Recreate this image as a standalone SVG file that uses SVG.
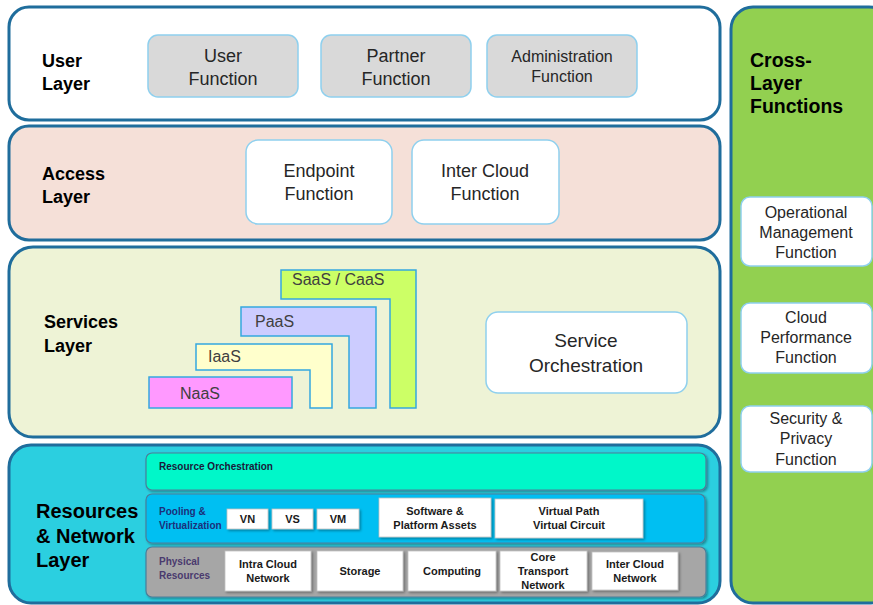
<svg xmlns="http://www.w3.org/2000/svg" width="873" height="605" viewBox="0 0 873 605">
<defs>
<style>
.layer{stroke:#1f6d9c;stroke-width:3}
.lbl{font-family:"Liberation Sans",Arial,sans-serif;font-weight:bold;fill:#000}
.fn{font-family:"Liberation Sans",Arial,sans-serif;fill:#262626;text-anchor:middle}
.gbox{fill:#d9d9d9;stroke:#8fd0ee;stroke-width:1.5}
.wbox{fill:#fff;stroke:#8fd0ee;stroke-width:1.5}
.stair{stroke:#35a8e0;stroke-width:1.5}
.stxt{font-family:"Liberation Sans",Arial,sans-serif;font-size:16px;fill:#404040}
.band{stroke:#4a7f9a;stroke-width:1.2}
.rb{fill:#fff;stroke:#c0c0c0;stroke-width:0.8}
.rt{font-family:"Liberation Sans",Arial,sans-serif;font-weight:bold;font-size:11px;fill:#1a1a1a;text-anchor:middle}
.small{font-family:"Liberation Sans",Arial,sans-serif;font-weight:bold;font-size:10px}
</style>
<filter id="sh" x="-10%" y="-10%" width="130%" height="140%"><feDropShadow dx="1.5" dy="1.5" stdDeviation="1" flood-color="#000" flood-opacity="0.35"/></filter>
</defs>

<g id="cross-layer">
<rect x="731" y="7" width="160" height="596" rx="22" fill="#92d050" class="layer"/>
<text class="lbl" font-size="19.5" x="750" y="67">Cross-</text>
<text class="lbl" font-size="19.5" x="750" y="90">Layer</text>
<text class="lbl" font-size="19.5" x="750" y="113">Functions</text>
</g>
<g id="op-mgmt">
<rect x="741" y="197" width="131" height="69" rx="9" class="wbox"/>
<text class="fn" font-size="16" x="806" y="218">Operational</text>
<text class="fn" font-size="16" x="806" y="238">Management</text>
<text class="fn" font-size="16" x="806" y="258">Function</text>
</g>
<g id="cloud-perf">
<rect x="741" y="303" width="131" height="70" rx="9" class="wbox"/>
<text class="fn" font-size="16" x="806" y="323">Cloud</text>
<text class="fn" font-size="16" x="806" y="343">Performance</text>
<text class="fn" font-size="16" x="806" y="363">Function</text>
</g>
<g id="sec-priv">
<rect x="741" y="406" width="131" height="66" rx="9" class="wbox"/>
<text class="fn" font-size="16" x="806" y="424">Security &amp;</text>
<text class="fn" font-size="16" x="806" y="444">Privacy</text>
<text class="fn" font-size="16" x="806" y="465">Function</text>
</g>

<g id="user-layer">
<rect x="9" y="7" width="711" height="113" rx="20" fill="#fff" class="layer"/>
<text class="lbl" font-size="18" x="42" y="67">User</text>
<text class="lbl" font-size="18" x="42" y="90">Layer</text>
</g>
<g id="user-function">
<rect x="148" y="35" width="150" height="62" rx="10" class="gbox"/>
<text class="fn" font-size="18" x="223" y="62">User</text>
<text class="fn" font-size="18" x="223" y="85">Function</text>
</g>
<g id="partner-function">
<rect x="321" y="35" width="150" height="62" rx="10" class="gbox"/>
<text class="fn" font-size="18" x="396" y="62">Partner</text>
<text class="fn" font-size="18" x="396" y="85">Function</text>
</g>
<g id="admin-function">
<rect x="487" y="35" width="150" height="62" rx="10" class="gbox"/>
<text class="fn" font-size="16" x="562" y="62">Administration</text>
<text class="fn" font-size="16" x="562" y="82">Function</text>
</g>

<g id="access-layer">
<rect x="9" y="126" width="711" height="114" rx="20" fill="#f5e0d8" class="layer"/>
<text class="lbl" font-size="18" x="42" y="180">Access</text>
<text class="lbl" font-size="18" x="42" y="203">Layer</text>
</g>
<g id="endpoint-function">
<rect x="246" y="140" width="146" height="84" rx="12" class="wbox"/>
<text class="fn" font-size="18" x="319" y="177">Endpoint</text>
<text class="fn" font-size="18" x="319" y="200">Function</text>
</g>
<g id="intercloud-function">
<rect x="412" y="140" width="147" height="84" rx="12" class="wbox"/>
<text class="fn" font-size="18" x="485" y="177">Inter Cloud</text>
<text class="fn" font-size="18" x="485" y="200">Function</text>
</g>

<g id="services-layer">
<rect x="9" y="247" width="711" height="190" rx="24" fill="#eef3d6" class="layer"/>
<text class="lbl" font-size="18" x="44" y="328">Services</text>
<text class="lbl" font-size="18" x="44" y="352">Layer</text>
</g>
<g id="saas">
<path d="M281 270H416V408H390V299H281Z" fill="#ccff66" class="stair"/>
<text class="stxt" x="292" y="285">SaaS / CaaS</text>
</g>
<g id="paas">
<path d="M241 307H376V408H349V336H241Z" fill="#ccccff" class="stair"/>
<text class="stxt" x="255" y="327">PaaS</text>
</g>
<g id="iaas">
<path d="M196 344H332V408H310V370H196Z" fill="#ffffcc" class="stair"/>
<text class="stxt" x="208" y="362">IaaS</text>
</g>
<g id="naas">
<rect x="149" y="377" width="143" height="31" fill="#ff99ff" class="stair"/>
<text class="stxt" x="180" y="399">NaaS</text>
</g>
<g id="service-orchestration">
<rect x="486" y="312" width="201" height="81" rx="12" class="wbox"/>
<text class="fn" font-size="19" x="586" y="347">Service</text>
<text class="fn" font-size="19" x="586" y="372">Orchestration</text>
</g>

<g id="resources-layer">
<rect x="9" y="445" width="711" height="158" rx="22" fill="#2bcfe0" class="layer"/>
<text class="lbl" font-size="20" x="36" y="518">Resources</text>
<text class="lbl" font-size="20" x="36" y="543">&amp; Network</text>
<text class="lbl" font-size="20" x="36" y="567">Layer</text>
</g>
<g id="resource-orchestration">
<rect x="146" y="453" width="560" height="37" rx="6" fill="#00f7c9" class="band" filter="url(#sh)"/>
<text class="small" x="159" y="470" fill="#1a1a3a">Resource Orchestration</text>
</g>
<g id="pooling">
<rect x="146" y="494" width="559" height="49" rx="6" fill="#00bff2" class="band" filter="url(#sh)"/>
<text class="small" x="159" y="515" fill="#1c2f7a">Pooling &amp;</text>
<text class="small" x="159" y="529" fill="#1c2f7a">Virtualization</text>
</g>
<g id="vn"><rect x="227" y="509" width="41" height="20" class="rb" filter="url(#sh)"/><text class="rt" x="247.5" y="523">VN</text></g>
<g id="vs"><rect x="272" y="509" width="41" height="20" class="rb" filter="url(#sh)"/><text class="rt" x="292.5" y="523">VS</text></g>
<g id="vm"><rect x="317" y="509" width="42" height="20" class="rb" filter="url(#sh)"/><text class="rt" x="338" y="523">VM</text></g>
<g id="software-assets"><rect x="379" y="498" width="112" height="39" class="rb" filter="url(#sh)"/><text class="rt" x="435" y="515">Software &amp;</text><text class="rt" x="435" y="529">Platform Assets</text></g>
<g id="virtual-path"><rect x="495" y="499" width="148" height="39" class="rb" filter="url(#sh)"/><text class="rt" x="569" y="515">Virtual Path</text><text class="rt" x="569" y="529">Virtual Circuit</text></g>
<g id="physical">
<rect x="146" y="547" width="560" height="50" rx="6" fill="#a6a6a6" class="band" filter="url(#sh)"/>
<text class="small" x="159" y="565" fill="#4a3a6e">Physical</text>
<text class="small" x="159" y="579" fill="#4a3a6e">Resources</text>
</g>
<g id="intra-cloud"><rect x="225" y="551" width="86" height="40" class="rb" filter="url(#sh)"/><text class="rt" x="268" y="568">Intra Cloud</text><text class="rt" x="268" y="582">Network</text></g>
<g id="storage"><rect x="317" y="551" width="86" height="40" class="rb" filter="url(#sh)"/><text class="rt" x="360" y="575">Storage</text></g>
<g id="computing"><rect x="408" y="551" width="88" height="40" class="rb" filter="url(#sh)"/><text class="rt" x="452" y="575">Computing</text></g>
<g id="core-transport"><rect x="500" y="551" width="87" height="40" class="rb" filter="url(#sh)"/><text class="rt" x="543" y="561">Core</text><text class="rt" x="543" y="575">Transport</text><text class="rt" x="543" y="589">Network</text></g>
<g id="inter-cloud-net"><rect x="592" y="552" width="86" height="38" class="rb" filter="url(#sh)"/><text class="rt" x="635" y="568">Inter Cloud</text><text class="rt" x="635" y="582">Network</text></g>

<g id="connectors"/>
</svg>
